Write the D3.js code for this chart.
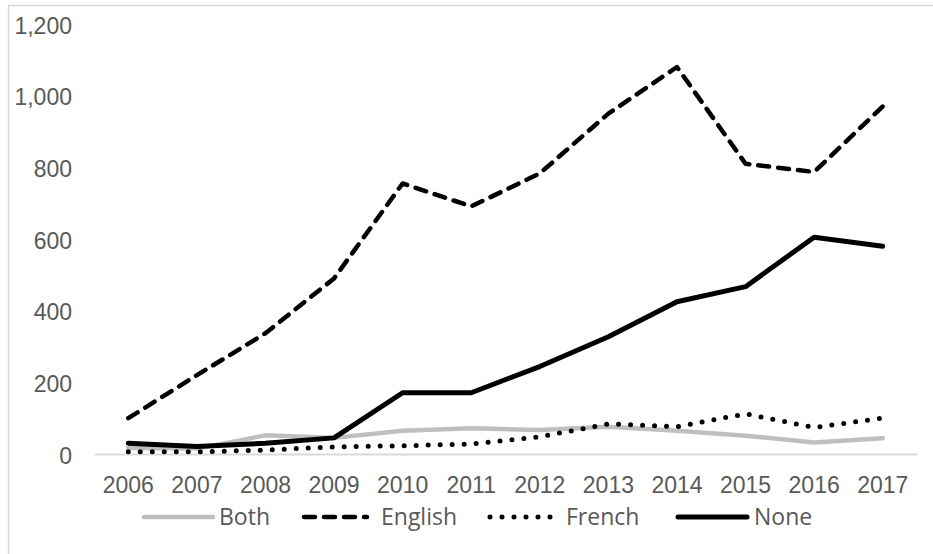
<!DOCTYPE html>
<html><head><meta charset="utf-8">
<script src="https://cdn.jsdelivr.net/npm/d3@7"></script>
<style>
html,body{margin:0;padding:0;background:#fff;}
svg{display:block;font-family:"Open Sans",sans-serif;}
</style></head>
<body>
<svg id="chart" width="933" height="554"></svg>
<script>
const years = ["2006","2007","2008","2009","2010","2011","2012","2013","2014","2015","2016","2017"];
const both    = [17, 15, 52, 45, 65, 72, 67, 76, 65, 51, 32, 44];
const english = [100, 220, 337, 490, 755, 691, 783, 950, 1080, 810, 787, 970];
const french  = [6, 6, 11, 20, 23, 28, 48, 84, 76, 112, 74, 100];
const none    = [30, 21, 30, 45, 171, 171, 244, 327, 425, 467, 605, 580];
const yTicks  = [0, 200, 400, 600, 800, 1000, 1200];
const seriesNames = ["Both", "English", "French", "None"];

const svg = d3.select("#chart");
const W = 933, H = 554;
const textColor = "#595959";
const fontSize = 23;

// frame
svg.append("rect").attr("x", 8.5).attr("y", 5.5).attr("width", W + 10).attr("height", H + 10)
  .attr("fill", "none").attr("stroke", "#d9d9d9").attr("stroke-width", 1.5);

const x = d3.scaleBand().domain(years).range([94, 917]);
const y = d3.scaleLinear().domain([0, 1200]).range([454, 24]);

// y axis labels
const yAxis = d3.axisLeft(y).tickValues(yTicks).tickSize(0).tickPadding(0).tickFormat(d3.format(","));
const gy = svg.append("g").attr("transform", "translate(72,0)").call(yAxis);
gy.select(".domain").remove();
gy.selectAll("text").attr("fill", textColor).style("font-size", fontSize + "px").attr("dy", "9px");

// x axis
const xAxis = d3.axisBottom(x).tickSize(0).tickPadding(0);
const gx = svg.append("g").attr("transform", "translate(0,454)").call(xAxis);
gx.select(".domain").attr("stroke", "#d9d9d9").attr("stroke-width", 2);
gx.selectAll("text").attr("fill", textColor).style("font-size", fontSize + "px").attr("y", 39).attr("dy", 0);

const styles = {
  Both:    {data: both,    stroke: "#bfbfbf", dash: null,   cap: "round", width: 4.5},
  English: {data: english, stroke: "#000",    dash: "11,9", cap: "round", width: 4.5},
  French:  {data: french,  stroke: "#000",    dash: "0,12", cap: "round", width: 5},
  None:    {data: none,    stroke: "#000",    dash: null,   cap: "round", width: 5}
};

const line = d3.line().x((d, i) => x(years[i]) + x.bandwidth() / 2).y(d => y(d));

seriesNames.forEach(name => {
  const s = styles[name];
  svg.append("path").datum(s.data).attr("d", line)
    .attr("fill", "none").attr("stroke", s.stroke).attr("stroke-width", s.width)
    .attr("stroke-linecap", s.cap).attr("stroke-linejoin", "round")
    .attr("stroke-dasharray", s.dash);
});

// legend
const legendY = 517;
const legendItems = [
  {name: "Both",    x1: 144, x2: 213, tx: 219},
  {name: "English", x1: 304, x2: 367, tx: 381},
  {name: "French",  x1: 490, x2: 556, tx: 566},
  {name: "None",    x1: 678, x2: 747, tx: 754}
];
const lg = svg.append("g");
legendItems.forEach(it => {
  const s = styles[it.name];
  lg.append("line").attr("x1", it.x1).attr("x2", it.x2).attr("y1", legendY).attr("y2", legendY)
    .attr("stroke", s.stroke).attr("stroke-width", s.width).attr("stroke-linecap", s.cap)
    .attr("stroke-dasharray", s.dash);
  lg.append("text").attr("x", it.tx).attr("y", 525)
    .attr("fill", textColor).style("font-size", fontSize + "px").text(it.name);
});
</script>
</body></html>
